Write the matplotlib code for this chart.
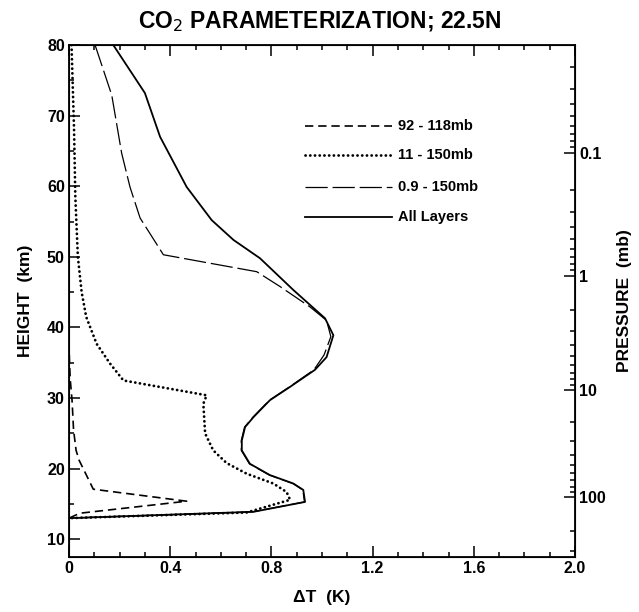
import numpy as np
import matplotlib
matplotlib.use("Agg")
import matplotlib.pyplot as plt
from matplotlib.ticker import MultipleLocator, FixedLocator, NullFormatter

plt.rcParams['font.family'] = ['Liberation Sans', 'DejaVu Sans']
plt.rcParams['lines.scale_dashes'] = False

# ---- data ----
h_all = [80, 73.2, 67.0, 59.9, 55.2, 52.4, 49.8, 45.3, 41.3, 38.9, 35.8, 34.0, 31.6, 29.7,
         27.3, 25.9, 24.0, 22.6, 20.7, 19.1, 17.9, 17.0, 15.3, 13.9, 13.0]
dt_all = [0.175, 0.30, 0.36, 0.465, 0.564, 0.65, 0.755, 0.887, 1.012, 1.045, 1.018, 0.972, 0.874, 0.794,
          0.729, 0.696, 0.683, 0.683, 0.715, 0.794, 0.887, 0.926, 0.933, 0.729, 0.0]

h_09 = [80, 72.9, 64.7, 59.9, 55.5, 53.3, 50.3, 49.1, 47.9, 45.8, 42.9, 41.0, 38.7, 36.1, 34.0,
        31.6, 29.7, 27.3, 25.9, 24.0, 22.6, 20.7, 19.1, 17.9, 17.0, 15.3, 13.9, 13.0]
dt_09 = [0.103, 0.169, 0.208, 0.241, 0.281, 0.32, 0.373, 0.557, 0.742, 0.834, 0.953, 1.018, 1.035, 1.008, 0.968,
         0.872, 0.792, 0.727, 0.694, 0.681, 0.681, 0.713, 0.792, 0.885, 0.924, 0.931, 0.727, 0.0]

h_11 = [80, 68, 58.5, 50, 45, 41.5, 37.7, 34.9, 32.5, 30.4, 29.2, 25.0, 22.6, 20.8, 19.3,
        17.9, 16.7, 15.6, 13.8, 13.0]
dt_11 = [0.01, 0.02, 0.025, 0.035, 0.05, 0.068, 0.109, 0.162, 0.215, 0.544, 0.531, 0.538, 0.570, 0.623, 0.702,
         0.808, 0.860, 0.874, 0.702, 0.0]

h_92 = [38, 35, 32.6, 29.7, 25.5, 22.6, 21.2, 17.1, 15.4, 13.7, 13.0]
dt_92 = [0.0, 0.002, 0.005, 0.012, 0.018, 0.028, 0.040, 0.096, 0.465, 0.043, 0.0]

series_labels = ['92 - 118mb', '11 - 150mb', '0.9 - 150mb', 'All Layers']
x_ticks = [0, 0.4, 0.8, 1.2, 1.6, 2.0]
x_ticklabels = ['0', '0.4', '0.8', '1.2', '1.6', '2.0']
y_ticks = [10, 20, 30, 40, 50, 60, 70, 80]
p_ticks = [0.1, 1, 10, 100]
p_ticklabels = ['0.1', '1', '10', '100']
# pressure (log10 mb) -> height (km) anchors
p_anchor_log = [-2, -1, 0, 1, 2, 3]
p_anchor_z = [82.1, 64.7, 47.3, 31.1, 16.0, 0.0]

# ---- figure ----
fig = plt.figure(figsize=(6.39, 6.12), dpi=100)
ax = fig.add_axes([69/639, 1-557/612, (575-69)/639, (557-45)/612])

ax.plot(dt_92, h_92, color='black', lw=1.2, linestyle=(0, (6, 3.5)))
ax.plot(dt_11, h_11, color='black', lw=2.0, linestyle=(0, (0.1, 3.3)), dash_capstyle='round')
ax.plot(dt_09, h_09, color='black', lw=0.9, linestyle=(0, (16, 3.5)))
ax.plot(dt_all, h_all, color='black', lw=1.3)

ax.set_xlim(0, 2.0)
ax.set_ylim(7.5, 80)

tfont = dict(fontsize=11.5, fontweight='bold')
ax.set_xticks(x_ticks)
ax.set_xticklabels(x_ticklabels, **tfont)
ax.xaxis.set_minor_locator(MultipleLocator(0.1))
ax.set_yticks(y_ticks)
ax.set_yticklabels([str(v) for v in y_ticks], **tfont)
ax.yaxis.set_minor_locator(MultipleLocator(5))
ax.tick_params(axis='x', which='both', direction='in', top=True, bottom=True, width=1.1)
ax.tick_params(axis='y', which='both', direction='in', left=True, right=False, width=1.1)
ax.tick_params(which='major', length=8, pad=3)
ax.tick_params(which='minor', length=3.8)
for s in ax.spines.values():
    s.set_linewidth(1.3)

ax.set_xlabel('\u0394T  (K)', fontsize=12.5, fontweight='bold', labelpad=10)
ax.set_ylabel('HEIGHT  (km)', fontsize=12.5, fontweight='bold', labelpad=10)

# right pressure axis
def p2z(p):
    return np.interp(np.log10(p), p_anchor_log, p_anchor_z)

ax2 = ax.twinx()
ax2.set_ylim(ax.get_ylim())
ax2.yaxis.set_major_locator(FixedLocator([float(p2z(p)) for p in p_ticks]))
ax2.set_yticklabels(p_ticklabels, **tfont)
minor_p = [m * 10.0**e for e in range(-2, 3) for m in range(2, 10)]
minor_z = [float(p2z(p)) for p in minor_p if 7.5 <= p2z(p) <= 80]
ax2.yaxis.set_minor_locator(FixedLocator(minor_z))
ax2.yaxis.set_minor_formatter(NullFormatter())
ax2.tick_params(axis='y', which='both', direction='in', width=1.1)
ax2.tick_params(which='major', length=8, pad=3)
ax2.tick_params(which='minor', length=3.8)
ax2.set_ylabel('PRESSURE  (mb)', fontsize=12.5, fontweight='bold', labelpad=8)

# legend drawn as lines + text
leg_x0, leg_x1, leg_tx = 0.933, 1.277, 1.30
leg_y = [68.5, 64.4, 59.9, 55.7]
leg_styles = [dict(lw=1.2, linestyle=(0, (6, 3.5))),
              dict(lw=2.0, linestyle=(0, (0.1, 3.3)), dash_capstyle='round'),
              dict(lw=0.9, linestyle=(0, (16, 3.5))),
              dict(lw=1.3)]
for yy, lab, st in zip(leg_y, series_labels, leg_styles):
    ax.plot([leg_x0, leg_x1], [yy, yy], color='black', **st)
    ax.text(leg_tx, yy, lab, fontsize=10.5, fontweight='bold', va='center', ha='left')

fig.text(0.5, 1 - 22/612, 'CO$_2$ PARAMETERIZATION; 22.5N', ha='center', va='center',
         fontsize=16.5, fontweight='bold')

fig.savefig('out.png', dpi=100)
